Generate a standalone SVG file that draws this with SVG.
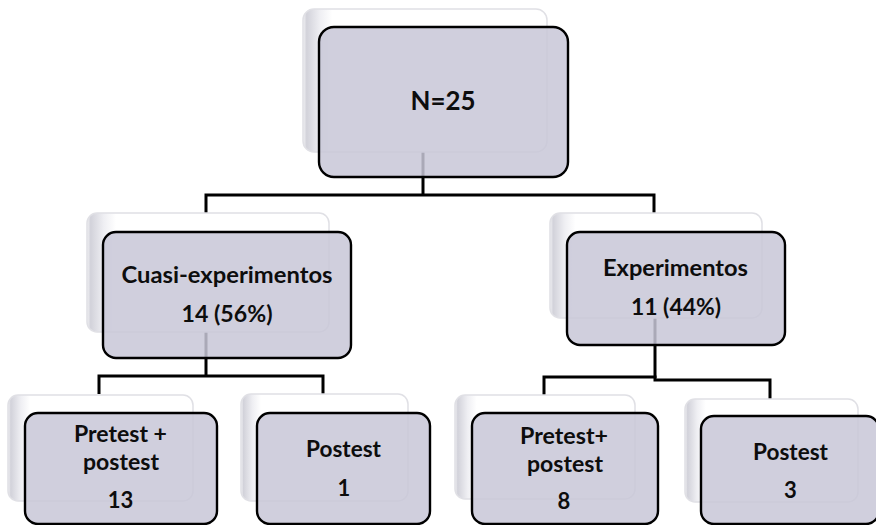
<svg xmlns="http://www.w3.org/2000/svg" width="876" height="525" viewBox="0 0 876 525">
<defs>
<linearGradient id="gh" x1="0" y1="0" x2="1" y2="0">
<stop offset="0" stop-color="#f4f4f6"/>
<stop offset="0.015" stop-color="#d2d2da"/>
<stop offset="0.07" stop-color="#efeff3"/>
<stop offset="0.12" stop-color="#ffffff"/>
<stop offset="1" stop-color="#ffffff"/>
</linearGradient>
</defs>
<style>
.ghost{fill:url(#gh);stroke:#e0e0e5;stroke-width:1.5}
.box{fill:#c8c7d7;fill-opacity:0.85;stroke:#000;stroke-width:2.4}
.conn{fill:none;stroke:#000;stroke-width:3;stroke-linejoin:miter}
text{font-family:Lato,"Liberation Sans",Arial,sans-serif;font-weight:bold;fill:#0d0d0d;text-anchor:middle}
.t26{font-size:27px}
.t21{font-size:22px}
</style>
<rect width="876" height="525" fill="#fff"/>
<g id="connectors">
<path class="conn" d="M423 150 V195"/>
<path class="conn" d="M206 213 V195 H654 V213"/>
<path class="conn" d="M206 330 V376"/>
<path class="conn" d="M99 394 V376 H323 V394"/>
<path class="conn" d="M655 316 V378"/>
<path class="conn" d="M544 396 V377 H655 V380 H770 V399"/>
</g>
<g id="n-root">
<rect class="ghost" x="303" y="9" width="244" height="143" rx="11"/>
<rect class="box" x="319" y="27" width="249" height="150" rx="15"/>
<text class="t26" x="443" y="110" textLength="65" lengthAdjust="spacingAndGlyphs">N=25</text>
</g>
<g id="n-cuasi">
<rect class="ghost" x="87" y="213" width="242" height="119" rx="10"/>
<rect class="box" x="103" y="232" width="248" height="126" rx="13"/>
<text class="t21" x="227" y="283" textLength="211" lengthAdjust="spacingAndGlyphs">Cuasi-experimentos</text>
<text class="t21" x="227" y="322" textLength="91" lengthAdjust="spacingAndGlyphs">14 (56%)</text>
</g>
<g id="n-exp">
<rect class="ghost" x="550" y="213" width="212" height="105" rx="10"/>
<rect class="box" x="567" y="232" width="218" height="113" rx="13"/>
<text class="t21" x="675.5" y="276" textLength="145" lengthAdjust="spacingAndGlyphs">Experimentos</text>
<text class="t21" x="676" y="315" textLength="90" lengthAdjust="spacingAndGlyphs">11 (44%)</text>
</g>
<g id="n-pre1">
<rect class="ghost" x="8" y="395" width="185" height="106" rx="10"/>
<rect class="box" x="25" y="413" width="192" height="111" rx="13"/>
<text class="t21" x="120.5" y="442" textLength="93" lengthAdjust="spacingAndGlyphs">Pretest +</text>
<text class="t21" x="121" y="470" textLength="76" lengthAdjust="spacingAndGlyphs">postest</text>
<text class="t21" x="120.5" y="508">13</text>
</g>
<g id="n-post1">
<rect class="ghost" x="241" y="394" width="167" height="107" rx="10"/>
<rect class="box" x="257" y="413" width="173" height="111" rx="13"/>
<text class="t21" x="343.5" y="457" textLength="75" lengthAdjust="spacingAndGlyphs">Postest</text>
<text class="t21" x="344" y="496">1</text>
</g>
<g id="n-pre2">
<rect class="ghost" x="455" y="395" width="180" height="104" rx="10"/>
<rect class="box" x="472" y="413" width="186" height="111" rx="13"/>
<text class="t21" x="564" y="444" textLength="88" lengthAdjust="spacingAndGlyphs">Pretest+</text>
<text class="t21" x="565" y="472" textLength="76" lengthAdjust="spacingAndGlyphs">postest</text>
<text class="t21" x="564" y="509">8</text>
</g>
<g id="n-post2">
<rect class="ghost" x="685" y="399" width="173" height="103" rx="10"/>
<rect class="box" x="701" y="416" width="178" height="108" rx="13"/>
<text class="t21" x="790.5" y="460" textLength="75" lengthAdjust="spacingAndGlyphs">Postest</text>
<text class="t21" x="790.5" y="498">3</text>
</g>
</svg>
